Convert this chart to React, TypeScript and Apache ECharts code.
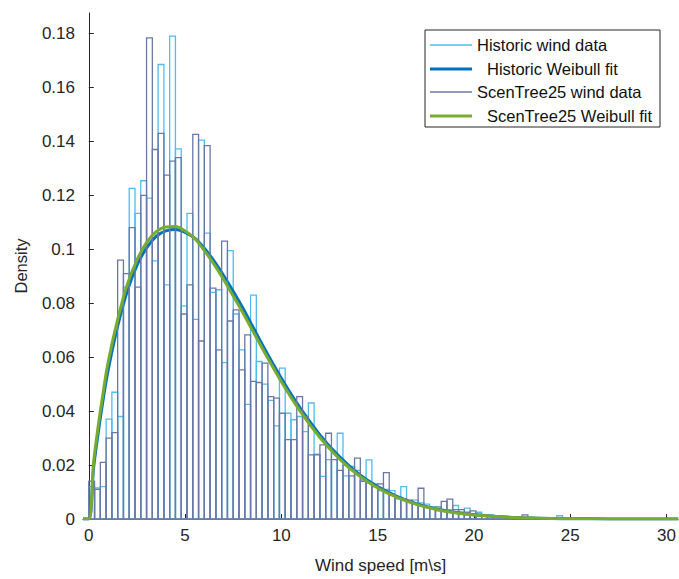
import React, { useEffect, useRef } from "react";
import * as echarts from "echarts";

// ---- data ----
const BIN_START = 0;
const BIN_WIDTH = 0.3;

const HISTORIC_DENSITY = [
  0.012, 0.0115, 0.012, 0.037, 0.047, 0.038, 0.086, 0.1226, 0.1133, 0.1254,
  0.119, 0.0957, 0.1685, 0.0868, 0.179, 0.1372, 0.079, 0.1133, 0.074, 0.1405,
  0.106, 0.084, 0.085, 0.058, 0.0995, 0.076, 0.0627, 0.0425, 0.083, 0.0584,
  0.05, 0.044, 0.0345, 0.0559, 0.0392, 0.0368, 0.038, 0.0324, 0.043, 0.024,
  0.0158, 0.022, 0.0245, 0.0318, 0.016, 0.0195, 0.018, 0.0145, 0.0219, 0.013,
  0.0105, 0.011, 0.0105, 0.0075, 0.012, 0.0065, 0.007, 0.006, 0.0055, 0.0045,
  0.003, 0.0035, 0.0035, 0.005, 0.0025, 0.004, 0.002, 0.0025, 0.0012, 0.0015,
  0.001, 0.0006, 0.0008, 0.0003, 0.0005, 0.0003, 0.0006, 0.0003, 0, 0.0003,
  0, 0.0012,
];

const SCENTREE_DENSITY = [
  0.014, 0.011, 0.021, 0.03, 0.032, 0.096, 0.091, 0.108, 0.086, 0.12,
  0.1784, 0.137, 0.143, 0.1275, 0.1327, 0.134, 0.076, 0.0868, 0.1426, 0.066,
  0.1384, 0.0856, 0.0627, 0.103, 0.0734, 0.0775, 0.0553, 0.0683, 0.051, 0.0506,
  0.0578, 0.0454, 0.0448, 0.0392, 0.0294, 0.0294, 0.0454, 0.038, 0.0238, 0.0238,
  0.0275, 0.0318, 0.022, 0.018, 0.02, 0.016, 0.0226, 0.014, 0.0135, 0.012,
  0.013, 0.0172, 0.009, 0.008, 0.0075, 0.007, 0.0055, 0.0114, 0.0045, 0.004,
  0.0045, 0.0065, 0.0074, 0.0035, 0.0035, 0.0025, 0.003, 0.0018, 0.0015, 0.0012,
  0.0008, 0.001, 0.0004, 0.0006, 0.0003, 0.0015, 0.0003, 0, 0.0003, 0,
  0, 0.0003,
];

const FIT_X = [
  -0.3, 0, 0.25, 0.5, 0.75, 1, 1.5, 2, 2.5, 3, 3.5, 4, 4.5, 5, 5.5, 6, 6.5, 7,
  7.5, 8, 9, 10, 11, 12, 13, 14, 15, 16, 17, 18, 19, 20, 22, 24, 26, 28, 30.6,
];
const HISTORIC_FIT = [
  0, 0, 0.019, 0.0325, 0.0445, 0.055, 0.0715, 0.0845, 0.094, 0.1005, 0.1048, 0.1068,
  0.1073, 0.1063, 0.1041, 0.1004, 0.0957, 0.0903, 0.0844, 0.0782, 0.0648, 0.0522,
  0.0409, 0.0312, 0.0232, 0.0168, 0.012, 0.0084, 0.0057, 0.0038, 0.0025, 0.0016,
  0.0006, 0.0002, 0.0001, 0, 0,
];
const SCENTREE_FIT = [
  0, 0, 0.021, 0.035, 0.047, 0.058, 0.074, 0.087, 0.096, 0.1025, 0.1065, 0.1083,
  0.1084, 0.1068, 0.104, 0.0995, 0.0945, 0.0888, 0.0827, 0.0765, 0.0634, 0.0509,
  0.0397, 0.0302, 0.0224, 0.0162, 0.0115, 0.008, 0.0054, 0.0036, 0.0023, 0.0015,
  0.0006, 0.0002, 0.0001, 0, 0,
];

const X_TICKS = [0, 5, 10, 15, 20, 25, 30];
const Y_TICKS = [0, 0.02, 0.04, 0.06, 0.08, 0.1, 0.12, 0.14, 0.16, 0.18];

const LEGEND_LABELS = [
  "Historic wind data",
  "Historic Weibull fit",
  "ScenTree25 wind data",
  "ScenTree25 Weibull fit",
];

const X_NAME = "Wind speed [m\\s]";
const Y_NAME = "Density";

// ---- styles ----
const C_HIST = "#4DBEEE";
const C_HIST_FIT = "#0072BD";
const C_SCEN = "#6B78A7";
const C_SCEN_FIT = "#77AC30";
const AXIS_C = "#262626";
const FONT = "'Liberation Sans', Arial, Helvetica, sans-serif";

function binData(values: number[]) {
  return values.map((v, i) => [
    BIN_START + i * BIN_WIDTH,
    BIN_START + (i + 1) * BIN_WIDTH,
    v,
  ]);
}

function histRender(color: string) {
  return (params: any, api: any) => {
    const x0 = api.value(0);
    const x1 = api.value(1);
    const v = api.value(2);
    if (!v) return null;
    const p0 = api.coord([x0, 0]);
    const p1 = api.coord([x1, v]);
    return {
      type: "rect",
      shape: {
        x: p0[0],
        y: p1[1],
        width: p1[0] - p0[0],
        height: p0[1] - p1[1],
      },
      style: { fill: "none", stroke: color, lineWidth: 1.3 },
    };
  };
}

export default function App() {
  const ref = useRef<HTMLDivElement>(null);

  useEffect(() => {
    if (!ref.current) return;
    const chart = echarts.init(ref.current, null, { renderer: "svg" });

    const legendY = [45, 69, 92, 116];
    const legendColors = [C_HIST, C_HIST_FIT, C_SCEN, C_SCEN_FIT];
    const legendWidths = [1.3, 3, 1.3, 3];
    const legendTextX = [477, 487, 477, 487];
    const legendGraphics: any[] = [
      {
        type: "rect",
        shape: { x: 425, y: 30, width: 235, height: 97 },
        style: { fill: "#ffffff", stroke: AXIS_C, lineWidth: 1 },
        z: 100,
      },
    ];
    LEGEND_LABELS.forEach((label, i) => {
      legendGraphics.push({
        type: "line",
        shape: { x1: 430, y1: legendY[i], x2: 472, y2: legendY[i] },
        style: { stroke: legendColors[i], lineWidth: legendWidths[i] },
        z: 101,
      });
      legendGraphics.push({
        type: "text",
        x: legendTextX[i],
        y: legendY[i],
        style: {
          text: label,
          fontSize: 16.5,
          fontFamily: FONT,
          fill: "#111111",
          verticalAlign: "middle",
          align: "left",
        },
        z: 101,
      });
    });

    const fmt = (v: number) => String(parseFloat(Number(v).toFixed(4)));

    chart.setOption({
      animation: false,
      backgroundColor: "#ffffff",
      grid: { left: 83, right: 0, top: 13, bottom: 60, containLabel: false },
      xAxis: {
        type: "value",
        min: -0.3,
        max: 30.6,
        name: X_NAME,
        nameLocation: "middle",
        nameGap: 38,
        nameTextStyle: { fontSize: 17, fontFamily: FONT, color: AXIS_C },
        axisLine: { show: true, onZero: false, lineStyle: { color: AXIS_C, width: 1 } },
        axisTick: {
          show: true,
          inside: true,
          length: 5,
          customValues: X_TICKS,
          lineStyle: { color: AXIS_C },
        },
        axisLabel: {
          customValues: X_TICKS,
          fontSize: 17,
          fontFamily: FONT,
          color: AXIS_C,
          margin: 8,
          formatter: fmt,
        },
        splitLine: { show: false },
      },
      yAxis: {
        type: "value",
        min: 0,
        max: 0.1876,
        name: Y_NAME,
        nameLocation: "middle",
        nameGap: 54,
        nameRotate: 90,
        nameTextStyle: { fontSize: 16.5, fontFamily: FONT, color: AXIS_C },
        axisLine: { show: true, lineStyle: { color: AXIS_C, width: 1 } },
        axisTick: {
          show: true,
          inside: true,
          length: 5,
          customValues: Y_TICKS,
          lineStyle: { color: AXIS_C },
        },
        axisLabel: {
          customValues: Y_TICKS,
          fontSize: 17,
          fontFamily: FONT,
          color: AXIS_C,
          margin: 8,
          formatter: fmt,
        },
        splitLine: { show: false },
      },
      graphic: legendGraphics,
      series: [
        {
          name: LEGEND_LABELS[0],
          type: "custom",
          renderItem: histRender(C_HIST),
          data: binData(HISTORIC_DENSITY),
          encode: { x: [0, 1], y: 2 },
          z: 1,
          silent: true,
        },
        {
          name: LEGEND_LABELS[1],
          type: "line",
          data: FIT_X.map((x, i) => [x, HISTORIC_FIT[i]]),
          showSymbol: false,
          smooth: 0.35,
          lineStyle: { color: C_HIST_FIT, width: 3 },
          z: 2,
          silent: true,
        },
        {
          name: LEGEND_LABELS[2],
          type: "custom",
          renderItem: histRender(C_SCEN),
          data: binData(SCENTREE_DENSITY),
          encode: { x: [0, 1], y: 2 },
          z: 3,
          silent: true,
        },
        {
          name: LEGEND_LABELS[3],
          type: "line",
          data: FIT_X.map((x, i) => [x, SCENTREE_FIT[i]]),
          showSymbol: false,
          smooth: 0.35,
          lineStyle: { color: C_SCEN_FIT, width: 3 },
          z: 4,
          silent: true,
        },
      ],
    });

    return () => chart.dispose();
  }, []);

  return (
    <div
      ref={ref}
      style={{ position: "fixed", left: 0, top: 0, width: 679, height: 579, background: "#fff" }}
    />
  );
}
